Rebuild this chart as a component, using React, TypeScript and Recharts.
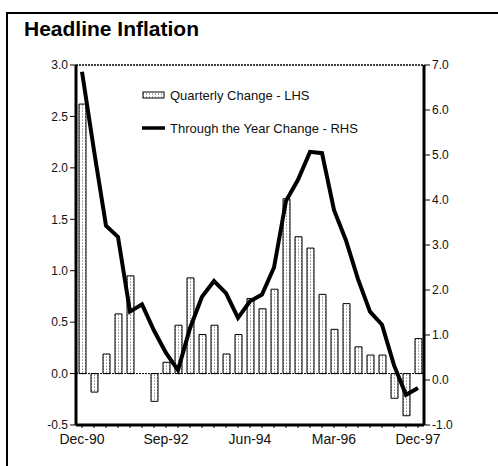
import React from "react";
import {
  Bar,
  ComposedChart,
  Line,
  ReferenceLine,
  XAxis,
  YAxis,
} from "recharts";

const quarters = [
  "Dec-90", "Mar-91", "Jun-91", "Sep-91", "Dec-91", "Mar-92", "Jun-92", "Sep-92",
  "Dec-92", "Mar-93", "Jun-93", "Sep-93", "Dec-93", "Mar-94", "Jun-94", "Sep-94",
  "Dec-94", "Mar-95", "Jun-95", "Sep-95", "Dec-95", "Mar-96", "Jun-96", "Sep-96",
  "Dec-96", "Mar-97", "Jun-97", "Sep-97", "Dec-97",
];

// quarterly change, LHS
const quarterlyChange = [
  2.62, -0.18, 0.19, 0.58, 0.95, 0.0, -0.27, 0.11, 0.47, 0.93, 0.38, 0.47, 0.19,
  0.38, 0.73, 0.63, 0.82, 1.7, 1.33, 1.22, 0.77, 0.43, 0.68, 0.26, 0.18, 0.18,
  -0.24, -0.41, 0.34,
];

// through the year change, RHS
const yearChange = [
  6.85, 5.1, 3.43, 3.18, 1.52, 1.68, 1.1, 0.6, 0.22, 1.15, 1.85, 2.2, 1.93, 1.38,
  1.75, 1.9, 2.5, 3.98, 4.45, 5.07, 5.04, 3.78, 3.1, 2.24, 1.52, 1.23, 0.33,
  -0.33, -0.18,
];

const lhsTicks = [-0.5, 0, 0.5, 1, 1.5, 2, 2.5, 3];
const rhsTicks = [-1, 0, 1, 2, 3, 4, 5, 6, 7];

const FONT = '"Liberation Sans", Arial, sans-serif';

const data = quarters.map((q, i) => ({
  q,
  qc: quarterlyChange[i],
  ty: yearChange[i],
}));

function XTick(props: any) {
  const { x, y, payload, index } = props;
  if (index % 7 !== 0) return null;
  return (
    <text x={x} y={y + 14} textAnchor="middle" fontSize={14} fontFamily={FONT} fill="#111">
      {payload.value}
    </text>
  );
}

function LegendBox() {
  return (
    <div
      style={{
        position: "absolute",
        left: 142,
        top: 85,
        fontFamily: FONT,
        fontSize: 13,
        color: "#111",
      }}
    >
      <div style={{ display: "flex", alignItems: "center", height: 20 }}>
        <svg width={24} height={8} style={{ marginRight: 4 }}>
          <rect x={1} y={1} width={21} height={6} fill="url(#hatch)" stroke="#000" strokeWidth={1} />
        </svg>
        Quarterly Change - LHS
      </div>
      <div style={{ display: "flex", alignItems: "center", height: 20, marginTop: 13 }}>
        <svg width={24} height={8} style={{ marginRight: 4 }}>
          <line x1={0} y1={4} x2={23} y2={4} stroke="#000" strokeWidth={3.5} />
        </svg>
        Through the Year Change - RHS
      </div>
    </div>
  );
}

export default function App() {
  return (
    <div
      style={{
        position: "absolute",
        left: 0,
        top: 0,
        width: 498,
        height: 466,
        background: "#fff",
        overflow: "hidden",
      }}
    >
      <div
        style={{
          position: "absolute",
          left: 6,
          top: 12,
          width: 520,
          height: 480,
          borderLeft: "2px solid #000",
          borderTop: "2px solid #000",
        }}
      />
      <div
        style={{
          position: "absolute",
          left: 24,
          top: 17,
          fontFamily: FONT,
          fontWeight: "bold",
          fontSize: 21,
          color: "#000",
        }}
      >
        Headline Inflation
      </div>
      <div style={{ position: "absolute", left: 0, top: 0 }}>
        <ComposedChart
          width={498}
          height={466}
          data={data}
          margin={{ top: 65, right: 14, bottom: 16, left: 16 }}
          barCategoryGap={0}
        >
          <defs>
            <pattern id="hatch" width={3} height={3} patternUnits="userSpaceOnUse">
              <rect width={3} height={3} fill="#fff" />
              <rect x={1} y={0} width={1} height={1} fill="#999" />
              <rect x={1} y={2} width={1} height={1} fill="#bbb" />
            </pattern>
          </defs>
          <XAxis
            dataKey="q"
            interval={0}
            tick={<XTick />}
            tickSize={3}
            tickLine={{ stroke: "#000" }}
            axisLine={{ stroke: "#000", strokeWidth: 3 }}
            height={25}
          />
          <YAxis
            yAxisId="l"
            domain={[-0.5, 3]}
            ticks={lhsTicks}
            tickFormatter={(v: number) => v.toFixed(1)}
            tick={{ fontSize: 12, fontFamily: FONT, fill: "#111" }}
            tickSize={6}
            tickLine={{ stroke: "#000" }}
            axisLine={{ stroke: "#000", strokeWidth: 3 }}
            width={60}
            allowDataOverflow
          />
          <YAxis
            yAxisId="r"
            orientation="right"
            domain={[-1, 7]}
            ticks={rhsTicks}
            tickFormatter={(v: number) => v.toFixed(1)}
            tick={{ fontSize: 12, fontFamily: FONT, fill: "#111" }}
            tickSize={6}
            tickLine={{ stroke: "#000" }}
            axisLine={{ stroke: "#000", strokeWidth: 3 }}
            width={60}
            allowDataOverflow
          />
          <ReferenceLine yAxisId="l" y={3} stroke="#000" strokeWidth={1.5} strokeDasharray="2 1" />
          <ReferenceLine yAxisId="l" y={0} stroke="#000" strokeWidth={1} strokeDasharray="2 1" />
          <Bar
            yAxisId="l"
            dataKey="qc"
            barSize={7}
            fill="url(#hatch)"
            stroke="#000"
            strokeWidth={1}
            isAnimationActive={false}
          />
          <Line
            yAxisId="r"
            dataKey="ty"
            stroke="#000"
            strokeWidth={4}
            dot={false}
            strokeLinejoin="miter"
            type="linear"
            isAnimationActive={false}
          />
        </ComposedChart>
      </div>
      <LegendBox />
    </div>
  );
}
